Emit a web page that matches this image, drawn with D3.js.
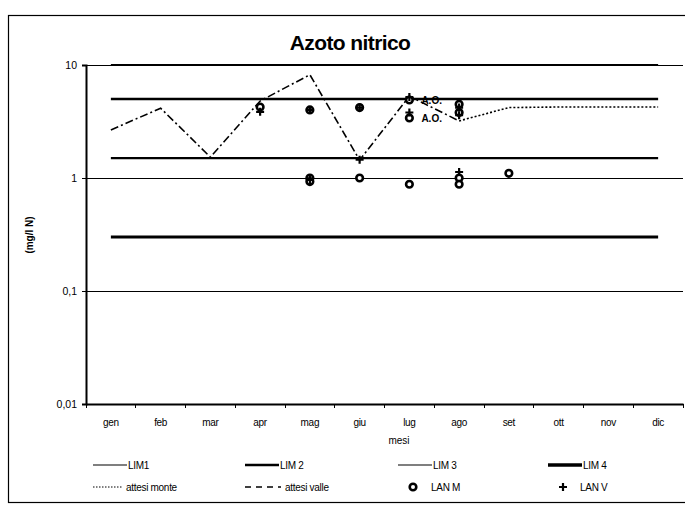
<!DOCTYPE html>
<html>
<head>
<meta charset="utf-8">
<script src="https://cdn.jsdelivr.net/npm/d3@7"></script>
<style>
  html, body { margin: 0; padding: 0; background: #fff; }
  svg { display: block; font-family: "Liberation Sans", Arial, sans-serif; }
</style>
</head>
<body>
<svg id="chart" width="685" height="507"></svg>
<script>
// Months on the category axis
const months = ["gen", "feb", "mar", "apr", "mag", "giu", "lug", "ago", "set", "ott", "nov", "dic"];

// Limit lines (mg/l N)
const limNames = ["LIM1", "LIM 2", "LIM 3", "LIM 4"];
const limValues = [10, 5, 1.5, 0.3];

// Expected values
const atteseValleMonths = ["gen", "feb", "mar", "apr", "mag", "giu", "lug", "ago"];
const atteseValle = [2.66, 4.15, 1.53, 4.8, 8.2, 1.44, 5.3, 3.2];
const atteseMonteMonths = ["ago", "set", "ott", "nov", "dic"];
const atteseMonte = [3.2, 4.2, 4.25, 4.25, 4.25];

// Measured samples
const lanMMonths = ["apr", "mag", "mag", "mag", "giu", "giu", "lug", "lug", "lug", "ago", "ago", "ago", "ago", "set"];
const lanM = [4.25, 4.0, 1.0, 0.93, 4.2, 1.0, 4.9, 3.4, 0.88, 4.5, 3.8, 1.0, 0.88, 1.1];
const lanVMonths = ["apr", "mag", "mag", "giu", "giu", "lug", "lug", "ago", "ago", "ago"];
const lanV = [3.85, 4.0, 0.96, 4.2, 1.45, 5.2, 3.8, 4.2, 3.6, 1.13];

// Annotated samples
const noteMonths = ["lug", "lug"];
const noteValues = [4.9, 3.4];
const noteText = ["A.O.", "A.O."];

const yTicks = [10, 1, 0.1, 0.01];
const yTickLabels = ["10", "1", "0,1", "0,01"];

const svg = d3.select("#chart");

// outer frame
svg.append("rect")
  .attr("x", 8.5).attr("y", 15.5)
  .attr("width", 700).attr("height", 487)
  .attr("fill", "none").attr("stroke", "#000").attr("stroke-width", 1.2);

svg.append("text")
  .attr("x", 350).attr("y", 50)
  .attr("text-anchor", "middle")
  .attr("font-size", 21).attr("font-weight", "bold")
  .attr("letter-spacing", -0.6)
  .text("Azoto nitrico");

const x = d3.scaleBand().domain(months).range([86, 683]);
const cx = m => x(m) + x.bandwidth() / 2;
const y = d3.scaleLog().domain([0.01, 10]).range([404, 65]);

// horizontal gridlines
svg.append("g").attr("shape-rendering", "crispEdges")
  .selectAll("line").data([10, 1, 0.1]).join("line")
  .attr("x1", 86).attr("x2", 683)
  .attr("y1", d => y(d)).attr("y2", d => y(d))
  .attr("stroke", "#000").attr("stroke-width", 1);

// axes
const yAxis = svg.append("g").attr("transform", "translate(86,0)")
  .call(d3.axisLeft(y).tickValues(yTicks).tickFormat((d, i) => yTickLabels[i]).tickSize(4).tickPadding(5));
yAxis.select(".domain").attr("stroke-width", 2);
yAxis.selectAll(".tick line").attr("shape-rendering", "crispEdges");
yAxis.selectAll("text").attr("font-size", 10.5).attr("fill", "#000");

const xAxis = svg.append("g").attr("transform", "translate(0,404)")
  .call(d3.axisBottom(x).tickSize(0).tickPadding(15));
xAxis.select(".domain").attr("stroke-width", 2);
xAxis.selectAll("text").attr("font-size", 10).attr("fill", "#000").attr("letter-spacing", -0.3);
// tick marks between categories
svg.append("g").attr("shape-rendering", "crispEdges")
  .selectAll("line").data(months.concat(["end"])).join("line")
  .attr("x1", (d, i) => 86 + i * x.bandwidth()).attr("x2", (d, i) => 86 + i * x.bandwidth())
  .attr("y1", 404).attr("y2", 408)
  .attr("stroke", "#000").attr("stroke-width", 1);

svg.append("text")
  .attr("transform", "translate(33,235) rotate(-90)")
  .attr("text-anchor", "middle").attr("font-size", 10).attr("font-weight", "bold")
  .text("(mg/l N)");

svg.append("text")
  .attr("x", 399).attr("y", 444).attr("text-anchor", "middle")
  .attr("font-size", 10).text("mesi");

// limit lines styles
const limWidths = [1.8, 2.6, 2.4, 3];
svg.append("g").selectAll("line").data(limValues).join("line")
  .attr("x1", cx("gen")).attr("x2", cx("dic"))
  .attr("y1", d => y(d)).attr("y2", d => y(d))
  .attr("stroke", "#000").attr("stroke-width", (d, i) => limWidths[i]);

const line = d3.line().x(d => cx(d[0])).y(d => y(d[1]));

const valleDash = "8,3,2,3";
const monteDash = "2,2";
svg.append("path")
  .attr("d", line(atteseValleMonths.map((m, i) => [m, atteseValle[i]])))
  .attr("fill", "none").attr("stroke", "#000").attr("stroke-width", 1.6)
  .attr("stroke-dasharray", valleDash);
svg.append("path")
  .attr("d", line(atteseMonteMonths.map((m, i) => [m, atteseMonte[i]])))
  .attr("fill", "none").attr("stroke", "#000").attr("stroke-width", 1.6)
  .attr("stroke-dasharray", monteDash);

// markers
function circleMark(g, px, py) {
  g.append("circle").attr("cx", px).attr("cy", py).attr("r", 3.3)
    .attr("fill", "#fff").attr("stroke", "#000").attr("stroke-width", 2.6);
}
function plusMark(g, px, py) {
  g.append("path").attr("d", `M${px - 4},${py}H${px + 4}M${px},${py - 4}V${py + 4}`)
    .attr("stroke", "#000").attr("stroke-width", 2.2);
}
const marks = svg.append("g");
lanM.forEach((v, i) => circleMark(marks, cx(lanMMonths[i]), y(v)));
lanV.forEach((v, i) => plusMark(marks, cx(lanVMonths[i]), y(v)));

svg.append("g").selectAll("text").data(noteValues).join("text")
  .attr("x", (d, i) => cx(noteMonths[i]) + 12)
  .attr("y", d => y(d) + 4)
  .attr("font-size", 10).attr("font-weight", "bold")
  .text((d, i) => noteText[i]);

// legend
const leg = svg.append("g").attr("font-size", 10).attr("letter-spacing", -0.3);
const col = [93, 245, 398, 548];
const row = [465, 487];
limNames.forEach((n, i) => {
  leg.append("line").attr("x1", col[i]).attr("x2", col[i] + 34)
    .attr("y1", row[0]).attr("y2", row[0])
    .attr("stroke", "#000").attr("stroke-width", [1.2, 2.4, 1.2, 3.5][i]);
  leg.append("text").attr("x", col[i] + 35).attr("y", row[0] + 4).text(n);
});
leg.append("line").attr("x1", col[0]).attr("x2", col[0] + 30).attr("y1", row[1]).attr("y2", row[1])
  .attr("stroke", "#000").attr("stroke-width", 1).attr("stroke-dasharray", "1.5,1.5");
leg.append("text").attr("x", col[0] + 33).attr("y", row[1] + 4).text("attesi monte");
leg.append("line").attr("x1", col[1]).attr("x2", col[1] + 36).attr("y1", row[1]).attr("y2", row[1])
  .attr("stroke", "#000").attr("stroke-width", 1.5).attr("stroke-dasharray", "6,5");
leg.append("text").attr("x", col[1] + 40).attr("y", row[1] + 4).text("attesi valle");
circleMark(leg, 413, row[1]);
leg.append("text").attr("x", 431).attr("y", row[1] + 4).text("LAN M");
plusMark(leg, 563, row[1]);
leg.append("text").attr("x", 580).attr("y", row[1] + 4).text("LAN V");
</script>
</body>
</html>
